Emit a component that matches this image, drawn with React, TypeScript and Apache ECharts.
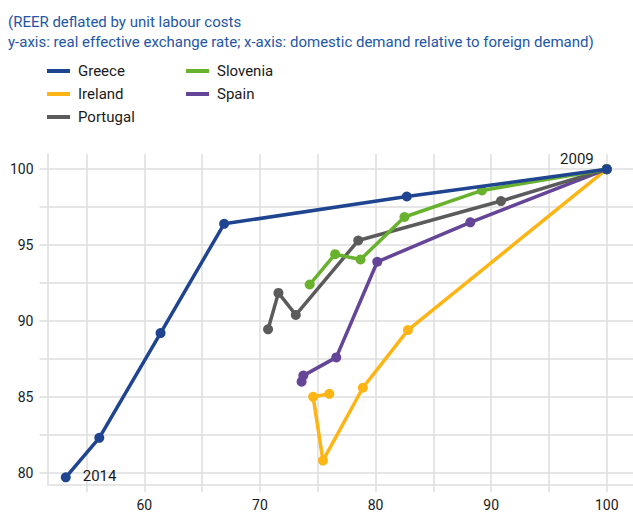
import React, { useEffect, useRef } from "react";
import * as echarts from "echarts";

const years = ["2009", "2010", "2011", "2012", "2013", "2014"];

const greeceX = [100, 82.7, 66.9, 61.4, 56.1, 53.2];
const greeceY = [100, 98.2, 96.4, 89.2, 82.3, 79.7];
const irelandX = [100, 82.8, 78.9, 75.45, 74.6, 76.0];
const irelandY = [100, 89.4, 85.6, 80.8, 85.0, 85.2];
const portugalX = [100, 90.85, 78.5, 73.1, 71.6, 70.7];
const portugalY = [100, 97.9, 95.3, 90.4, 91.85, 89.45];
const sloveniaX = [100, 89.2, 82.5, 78.7, 76.5, 74.3];
const sloveniaY = [100, 98.6, 96.85, 94.05, 94.4, 92.4];
const spainX = [100, 88.2, 80.15, 76.6, 73.75, 73.6];
const spainY = [100, 96.5, 93.9, 87.6, 86.4, 86.0];

const xGridValues = [55, 60, 65, 70, 75, 80, 85, 90, 95, 100];
const xLabelValues = [60, 70, 80, 90, 100];
const yGridValues = [80, 82.5, 85, 87.5, 90, 92.5, 95, 97.5, 100];
const yLabelValues = [80, 85, 90, 95, 100];

const titleLines = [
  "(REER deflated by unit labour costs",
  "y-axis: real effective exchange rate; x-axis: domestic demand relative to foreign demand)",
];

const COLORS: Record<string, string> = {
  Greece: "#1f4591",
  Ireland: "#fdb515",
  Portugal: "#5b5b5b",
  Slovenia: "#68b22e",
  Spain: "#644597",
};

const FONT = "Roboto";
const GRID_COLOR = "#dedede";
const TEXT_COLOR = "#1a1a1a";

function pairs(xs: number[], ys: number[]) {
  return xs.map((x, i) => [x, ys[i]]);
}

function makeSeries(name: string, xs: number[], ys: number[], z: number, labelled = false) {
  const data = pairs(xs, ys).map((v, i) => {
    const item: any = { value: v };
    if (labelled && i === 0) {
      item.label = {
        show: true,
        formatter: years[i],
        position: "left",
        distance: 8,
        offset: [0, -10],
        fontFamily: FONT,
        fontSize: 15,
        color: TEXT_COLOR,
      };
    }
    if (labelled && i === xs.length - 1) {
      item.label = {
        show: true,
        formatter: years[i],
        position: "right",
        distance: 12,
        offset: [0, -1],
        fontFamily: FONT,
        fontSize: 15,
        color: TEXT_COLOR,
      };
    }
    return item;
  });
  return {
    name,
    type: "line",
    data,
    z,
    symbol: "circle",
    symbolSize: 10,
    showSymbol: true,
    lineStyle: { color: COLORS[name], width: 3.5 },
    itemStyle: { color: COLORS[name] },
    emphasis: { disabled: true },
  };
}

export default function App() {
  const ref = useRef<HTMLDivElement>(null);

  useEffect(() => {
    if (!ref.current) return;
    const chart = echarts.init(ref.current, undefined, { renderer: "svg" });
    const legendCommon = {
      orient: "vertical",
      top: 63,
      padding: 0,
      itemGap: 7,
      itemWidth: 23,
      itemHeight: 4,
      icon: "rect",
      selectedMode: false,
      textStyle: {
        fontFamily: FONT,
        fontSize: 15,
        color: TEXT_COLOR,
        lineHeight: 16,
        padding: [0, 0, 0, 3],
      },
    };
    chart.setOption({
      animation: false,
      backgroundColor: "#ffffff",
      title: {
        text: titleLines.join("\n"),
        left: 8,
        top: 12,
        padding: 0,
        textStyle: {
          fontFamily: FONT,
          fontSize: 15,
          fontWeight: "normal",
          color: "#2456a6",
          lineHeight: 20,
        },
      },
      legend: [
        { ...legendCommon, left: 47, data: ["Greece", "Ireland", "Portugal"] },
        { ...legendCommon, left: 186, data: ["Slovenia", "Spain"] },
      ],
      grid: { left: 47.5, right: 0, top: 154, bottom: 40.7, containLabel: false },
      xAxis: {
        type: "value",
        min: 51.62,
        max: 102.27,
        axisLine: { show: true, lineStyle: { color: GRID_COLOR, width: 1.5 } },
        axisTick: {
          show: true,
          length: 8,
          customValues: xGridValues,
          lineStyle: { color: GRID_COLOR, width: 1.5 },
        },
        splitLine: { show: true, lineStyle: { color: GRID_COLOR, width: 1.5 } },
        axisLabel: {
          customValues: xLabelValues,
          fontFamily: FONT,
          fontSize: 14,
          color: TEXT_COLOR,
          margin: 14,
        },
      },
      yAxis: {
        type: "value",
        min: 79.24,
        max: 101,
        axisLine: { show: true, lineStyle: { color: GRID_COLOR, width: 1.5 } },
        axisTick: {
          show: true,
          length: 8,
          customValues: yGridValues,
          lineStyle: { color: GRID_COLOR, width: 1.5 },
        },
        splitLine: { show: true, lineStyle: { color: GRID_COLOR, width: 1.5 } },
        axisLabel: {
          customValues: yLabelValues,
          fontFamily: FONT,
          fontSize: 14,
          color: TEXT_COLOR,
          margin: 14,
        },
      },
      series: [
        makeSeries("Ireland", irelandX, irelandY, 2),
        makeSeries("Spain", spainX, spainY, 3),
        makeSeries("Portugal", portugalX, portugalY, 4),
        makeSeries("Slovenia", sloveniaX, sloveniaY, 5),
        makeSeries("Greece", greeceX, greeceY, 6, true),
      ],
    });
    return () => chart.dispose();
  }, []);

  return (
    <div
      ref={ref}
      style={{ position: "fixed", left: 0, top: 0, width: 633, height: 525, background: "#fff" }}
    />
  );
}
